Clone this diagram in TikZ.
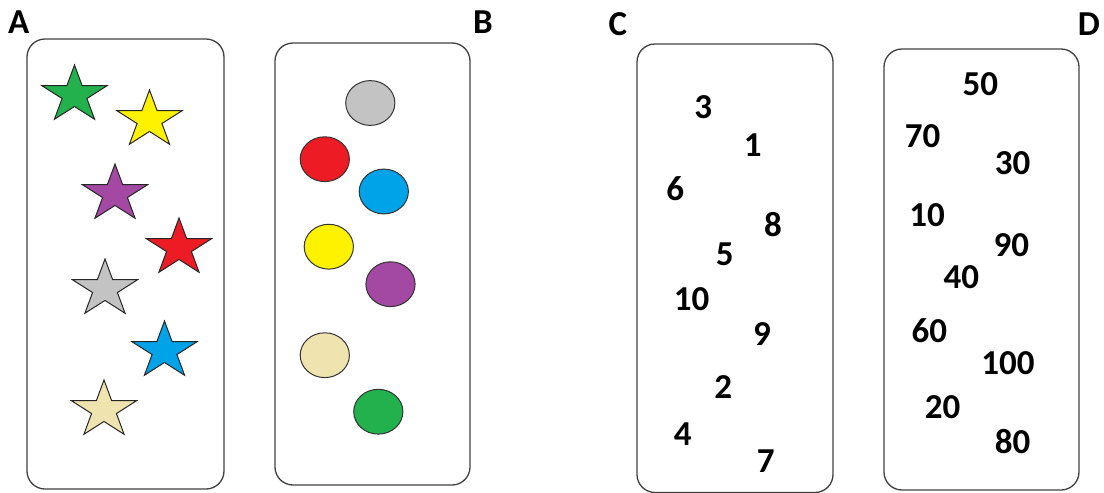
\documentclass[tikz,border=0pt]{standalone}
\usepackage{fontspec}
\setmainfont{Carlito}
\begin{document}
\begin{tikzpicture}[x=0.5pt,y=-0.5pt,
  panel/.style={draw=black!75, line width=0.65pt, rounded corners=9pt},
  lbl/.style={inner sep=0pt, font=\fontsize{17.5}{20}\selectfont\bfseries},
  num/.style={inner sep=0pt, font=\fontsize{17.5}{20}\selectfont\bfseries},
  dot/.style={draw=black!80, line width=0.5pt, fill=#1},
  pics/mystar/.style={code={
    \path[draw=black!85, line width=0.5pt, fill=#1, xscale=1.14]
      (-90:30) -- (-54:11.46) -- (-18:30) -- (18:11.46) -- (54:30) -- (90:11.46)
      -- (126:30) -- (162:11.46) -- (198:30) -- (234:11.46) -- cycle;}}]
\definecolor{pgreen}{HTML}{22B14C}
\definecolor{pyellow}{HTML}{FFF200}
\definecolor{ppurple}{HTML}{A349A4}
\definecolor{pred}{HTML}{ED1C24}
\definecolor{pgray}{HTML}{C3C3C3}
\definecolor{pblue}{HTML}{00A2E8}
\definecolor{pbeige}{HTML}{EFE4B0}
\useasboundingbox (0,0) rectangle (1104,493);
% panels
\draw[panel] (27,39) rectangle (224,489);
\draw[panel] (275,43) rectangle (470,485);
\draw[panel] (637,44) rectangle (833,492.5);
\draw[panel] (884,49) rectangle (1079,490);
% labels
\node[lbl] (la) at (18.8,21.7) {A};
\node[lbl] (lb) at (483,21.7) {B};
\node[lbl] (lc) at (618,24) {C};
\node[lbl] (ld) at (1089,24) {D};
% stars
\pic at (74.5,95) {mystar=pgreen};
\pic at (149.5,120) {mystar=pyellow};
\pic at (115,194) {mystar=ppurple};
\pic at (179,248) {mystar=pred};
\pic at (105,289) {mystar=pgray};
\pic at (164.5,351) {mystar=pblue};
\pic at (104,410) {mystar=pbeige};
% circles
\draw[dot=pgray] (370.3,103) ellipse [x radius=24.6, y radius=22.4];
\draw[dot=pred] (324.8,159.2) ellipse [x radius=24.6, y radius=22.4];
\draw[dot=pblue] (383.8,191.5) ellipse [x radius=24.6, y radius=22.4];
\draw[dot=pyellow] (328.8,246.7) ellipse [x radius=24.6, y radius=22.4];
\draw[dot=ppurple] (390.5,284.2) ellipse [x radius=24.6, y radius=22.4];
\draw[dot=pbeige] (324.8,355.2) ellipse [x radius=24.6, y radius=22.4];
\draw[dot=pgreen] (378.3,411.7) ellipse [x radius=24.6, y radius=22.4];
% numbers C
\node[num] (c3) at (703.3,107.5) {3};
\node[num] (c1) at (752.7,145.5) {1};
\node[num] (c6) at (675.3,188.5) {6};
\node[num] (c8) at (773,225) {8};
\node[num] (c5) at (724.7,253.8) {5};
\node[num] (c10) at (691.7,299.5) {10};
\node[num] (c9) at (762,334.5) {9};
\node[num] (c2) at (723.3,387) {2};
\node[num] (c4) at (682.7,434.5) {4};
\node[num] (c7) at (765.7,460.8) {7};
% numbers D
\node[num] (d50) at (980.3,83.8) {50};
\node[num] (d70) at (922.7,136) {70};
\node[num] (d30) at (1012.7,162.8) {30};
\node[num] (d10) at (927,215.3) {10};
\node[num] (d90) at (1011.3,245) {90};
\node[num] (d40) at (961.3,277) {40};
\node[num] (d60) at (929.3,330.3) {60};
\node[num] (d100) at (1008,362.8) {100};
\node[num] (d20) at (942.7,407) {20};
\node[num] (d80) at (1012.7,442) {80};
\end{tikzpicture}
\end{document}
